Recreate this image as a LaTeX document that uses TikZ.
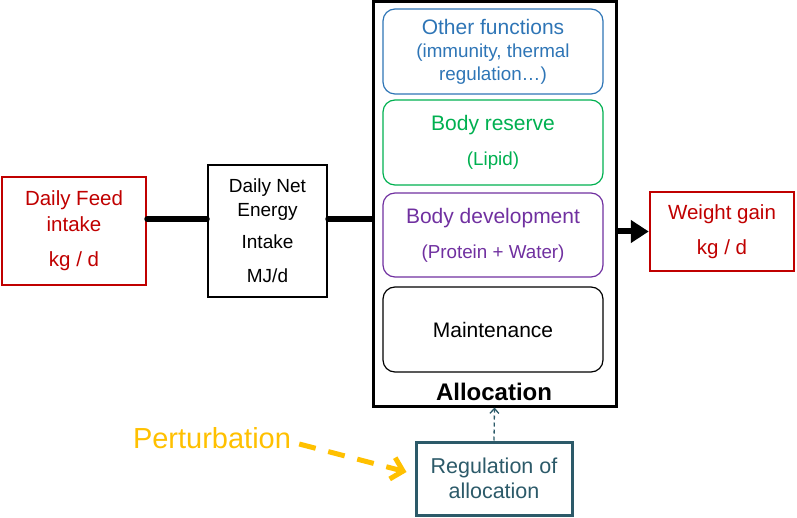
\documentclass[tikz,border=0pt]{standalone}
\usepackage{fontspec}
\setmainfont{Liberation Sans}
\usetikzlibrary{arrows.meta}

\definecolor{feedred}{RGB}{192,0,0}
\definecolor{otherblue}{RGB}{46,117,182}
\definecolor{reservegreen}{RGB}{0,176,80}
\definecolor{devpurple}{RGB}{112,48,160}
\definecolor{pertgold}{RGB}{255,192,0}
\definecolor{regteal}{RGB}{44,90,105}

\begin{document}
\begin{tikzpicture}[x = 1pt, y = -1pt, every node/.style={align = center, inner sep = 0pt},
  redbox/.style={draw = feedred, line width = 2.5pt, text = feedred, font = \fontsize{20.5}{26}\selectfont},
  funcbox/.style={draw, line width = 1.2pt, rounded corners = 12pt, minimum width = 220pt, minimum height = 85pt, font = \fontsize{21}{26}\selectfont},
  flow/.style={line width = 6pt, line cap = round}]

  \useasboundingbox (0, 0) rectangle (797, 518);

  \node[redbox, minimum width = 144pt, minimum height = 108pt] (feed) at (74, 231)
    {Daily Feed\\ intake\\[9pt] kg / d};
  \node[draw, line width = 2.5pt, minimum width = 119pt, minimum height = 132pt, font = \fontsize{19}{24}\selectfont] (energy) at (267.5, 231)
    {Daily Net\\ Energy\\[8pt] Intake\\[10pt] MJ/d};

  \node[draw, line width = 3pt, minimum width = 243pt, minimum height = 404pt] (alloc) at (494.5, 204) {};

  \node[funcbox, draw = otherblue, text = otherblue, font = \fontsize{18.8}{23}\selectfont] (other) at (493, 51.5)
    {\fontsize{21}{22}\selectfont Other functions\\ (immunity, thermal\\ regulation…)};
  \node[funcbox, draw = reservegreen, text = reservegreen] (reserve) at (493, 142.5)
    {Body reserve\\[9pt] \fontsize{18.8}{23}\selectfont (Lipid)};
  \node[funcbox, draw = devpurple, text = devpurple, minimum height = 84pt] (develop) at (493, 235)
    {Body development\\[9pt] \fontsize{18.8}{23}\selectfont (Protein + Water)};
  \node[funcbox, draw = black] (maint) at (493, 329.5) {Maintenance};
  \node[font = \fontsize{24}{28}\selectfont\bfseries] (alloclabel) at (494, 392) {Allocation};

  \node[redbox, minimum width = 144pt, minimum height = 79pt] (weight) at (722, 231.5)
    {Weight gain\\[9pt] kg / d};

  \node[draw = regteal, line width = 3pt, text = regteal, minimum width = 156pt, minimum height = 73pt, font = \fontsize{21.5}{25}\selectfont] (regul) at (494, 478.5)
    {Regulation of\\ allocation};
  \node[text = pertgold, font = \fontsize{29}{32}\selectfont] (pert) at (212, 438) {Perturbation};

  \draw[flow] ([yshift = 12pt]feed.east) -- ([yshift = 12pt]energy.west);
  \draw[flow] ([yshift = 12pt]energy.east) -- ([yshift = 12pt]energy.east -| alloc.west);
  \draw[line width = 6pt, -{Triangle[length = 18pt, width = 22pt]}] (weight.west -| alloc.east) -- (weight.west);
  \draw[regteal, line width = 1.3pt, dash pattern = on 4pt off 3pt, -{Straight Barb[length = 5pt, width = 9pt]}] (regul.north) -- (alloc.south);
  \draw[pertgold, line width = 5pt, dash pattern = on 17pt off 13pt, -{Straight Barb[length = 11pt, width = 22pt]}] ([shift = {(8pt, -6pt)}]pert.east) -- ([shift = {(-8pt, 6.5pt)}]regul.west);

\end{tikzpicture}
\end{document}
